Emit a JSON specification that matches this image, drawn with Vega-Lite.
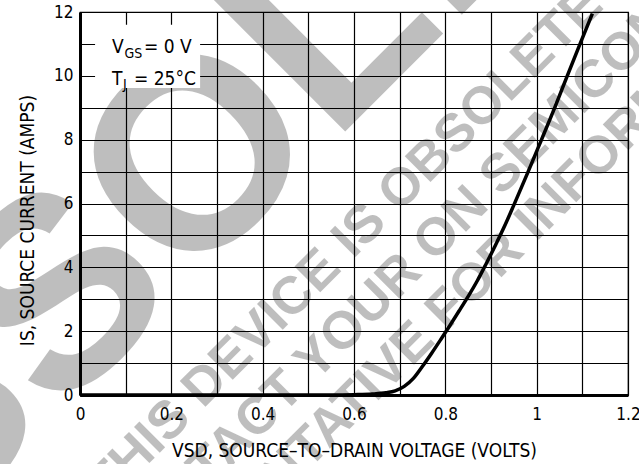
{
  "$schema": "https://vega.github.io/schema/vega-lite/v6.json",
  "width": 548,
  "height": 383,
  "autosize": "none",
  "padding": {"left": 80, "top": 12, "right": 11, "bottom": 69},
  "background": "white",
  "config": {
    "view": {"stroke": "#000", "strokeWidth": 1.2},
    "font": "DejaVu Sans Condensed, Roboto"
  },
  "datasets": {
    "curve": [
      {"vsd": 0.0, "is": 0.0},
      {"vsd": 0.3, "is": 0.0},
      {"vsd": 0.55, "is": 0.0},
      {"vsd": 0.6, "is": 0.01},
      {"vsd": 0.64, "is": 0.03},
      {"vsd": 0.67, "is": 0.07},
      {"vsd": 0.69, "is": 0.13},
      {"vsd": 0.71, "is": 0.27},
      {"vsd": 0.73, "is": 0.52},
      {"vsd": 0.75, "is": 0.9},
      {"vsd": 0.77, "is": 1.31},
      {"vsd": 0.79, "is": 1.74},
      {"vsd": 0.81, "is": 2.18},
      {"vsd": 0.83, "is": 2.63},
      {"vsd": 0.85, "is": 3.09},
      {"vsd": 0.87, "is": 3.58},
      {"vsd": 0.89, "is": 4.13},
      {"vsd": 0.91, "is": 4.7},
      {"vsd": 0.93, "is": 5.3},
      {"vsd": 0.95, "is": 5.95},
      {"vsd": 0.98, "is": 6.95},
      {"vsd": 1.01, "is": 7.98},
      {"vsd": 1.04, "is": 9.02},
      {"vsd": 1.067, "is": 10.0},
      {"vsd": 1.095, "is": 11.0},
      {"vsd": 1.122, "is": 11.95}
    ],
    "one": [{}]
  },
  "encoding": {
    "x": {
      "type": "quantitative",
      "scale": {"domain": [0, 1.2], "nice": false, "zero": false},
      "axis": {
        "values": [0, 0.1, 0.2, 0.3, 0.4, 0.5, 0.6, 0.7, 0.8, 0.9, 1.0, 1.1, 1.2],
        "labelExpr": "round(datum.value*10) % 2 == 0 ? format(datum.value, '~g') : ''",
        "grid": true, "gridColor": "#000", "gridWidth": 1.2, "gridOpacity": 1,
        "domainColor": "#000", "domainWidth": 3,
        "ticks": false,
        "labelPadding": 11, "labelFontSize": 17, "labelColor": "#000", "labelDx": 3,
        "labelOverlap": false, "labelFlush": false,
        "title": "VSD, SOURCE–TO–DRAIN VOLTAGE (VOLTS)",
        "titleFontSize": 19, "titleFontWeight": "normal", "titleColor": "#000",
        "titleBaseline": "alphabetic", "titleY": 61
      }
    },
    "y": {
      "type": "quantitative",
      "scale": {"domain": [0, 12], "nice": false, "zero": false},
      "axis": {
        "values": [0, 1, 2, 3, 4, 5, 6, 7, 8, 9, 10, 11, 12],
        "labelExpr": "datum.value % 2 == 0 ? datum.label : ''",
        "grid": true, "gridColor": "#000", "gridWidth": 1.2, "gridOpacity": 1,
        "domainColor": "#000", "domainWidth": 3,
        "ticks": false,
        "labelPadding": 7, "labelFontSize": 17, "labelColor": "#000",
        "labelOverlap": false, "labelFlush": false,
        "title": "IS, SOURCE CURRENT (AMPS)",
        "titleFontSize": 19, "titleFontWeight": "normal", "titleColor": "#000",
        "titleBaseline": "alphabetic", "titleAngle": -90, "titleAlign": "center",
        "titleX": -47, "titleY": 208
      }
    }
  },
  "layer": [
    {
      "data": {"name": "curve"},
      "mark": {"type": "line", "color": "#000", "strokeWidth": 3.5, "interpolate": "monotone", "clip": false},
      "encoding": {
        "x": {"field": "vsd", "type": "quantitative"},
        "y": {"field": "is", "type": "quantitative"}
      }
    },
    {
      "data": {"name": "one"},
      "mark": {"type": "text", "text": "OBSOLETE", "font": "Liberation Sans", "fontWeight": "bold", "fontSize": 270, "angle": -45, "align": "center", "baseline": "middle", "fill": "#000", "opacity": 0.25},
      "encoding": {"x": {"datum": 0.346}, "y": {"datum": 8.49}}
    },
    {
      "data": {"name": "one"},
      "mark": {"type": "text", "text": "THIS DEVICE IS OBSOLETE", "font": "Liberation Sans", "fontWeight": "bold", "fontSize": 53, "angle": -45, "align": "center", "baseline": "middle", "fill": "#000", "opacity": 0.25},
      "encoding": {"x": {"datum": 0.58}, "y": {"datum": 4.7}}
    },
    {
      "data": {"name": "one"},
      "mark": {"type": "text", "text": "CONTACT YOUR ON SEMICONDUCTOR", "font": "Liberation Sans", "fontWeight": "bold", "fontSize": 53, "angle": -45, "align": "center", "baseline": "middle", "fill": "#000", "opacity": 0.25},
      "encoding": {"x": {"datum": 0.852}, "y": {"datum": 5.92}}
    },
    {
      "data": {"name": "one"},
      "mark": {"type": "text", "text": "REPRESENTATIVE FOR INFORMATION", "font": "Liberation Sans", "fontWeight": "bold", "fontSize": 53, "angle": -45, "align": "center", "baseline": "middle", "fill": "#000", "opacity": 0.25},
      "encoding": {"x": {"datum": 0.786}, "y": {"datum": 2.44}}
    },
    {
      "data": {"name": "one"},
      "mark": {"type": "rect", "fill": "#fff"},
      "encoding": {"x": {"datum": 0.033}, "x2": {"datum": 0.263}, "y": {"datum": 11.6}, "y2": {"datum": 9.62}}
    },
    {
      "data": {"name": "one"},
      "mark": {"type": "text", "text": "V", "fontSize": 19, "align": "left", "baseline": "alphabetic", "fill": "#000"},
      "encoding": {"x": {"datum": 0.07}, "y": {"datum": 10.71}}
    },
    {
      "data": {"name": "one"},
      "mark": {"type": "text", "text": "GS", "fontSize": 14, "align": "left", "baseline": "alphabetic", "fill": "#000", "dx": 12.5, "dy": 5},
      "encoding": {"x": {"datum": 0.07}, "y": {"datum": 10.71}}
    },
    {
      "data": {"name": "one"},
      "mark": {"type": "text", "text": "= 0 V", "fontSize": 19, "align": "left", "baseline": "alphabetic", "fill": "#000", "dx": 32},
      "encoding": {"x": {"datum": 0.07}, "y": {"datum": 10.71}}
    },
    {
      "data": {"name": "one"},
      "mark": {"type": "text", "text": "T", "fontSize": 19, "align": "left", "baseline": "alphabetic", "fill": "#000"},
      "encoding": {"x": {"datum": 0.07}, "y": {"datum": 9.71}}
    },
    {
      "data": {"name": "one"},
      "mark": {"type": "text", "text": "J", "fontSize": 14, "align": "left", "baseline": "alphabetic", "fill": "#000", "dx": 11, "dy": 4},
      "encoding": {"x": {"datum": 0.07}, "y": {"datum": 9.71}}
    },
    {
      "data": {"name": "one"},
      "mark": {"type": "text", "text": "= 25°C", "fontSize": 19, "align": "left", "baseline": "alphabetic", "fill": "#000", "dx": 22},
      "encoding": {"x": {"datum": 0.07}, "y": {"datum": 9.71}}
    }
  ]
}
